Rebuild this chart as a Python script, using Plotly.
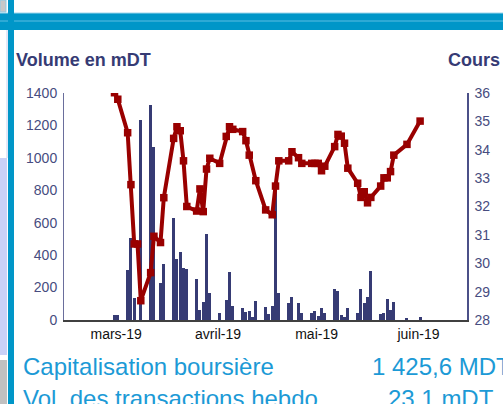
import plotly.graph_objects as go
import pandas as pd

# ---------------- data ----------------
dates = ["2019-02-28", "2019-03-01", "2019-03-04", "2019-03-05", "2019-03-06", "2019-03-07",
         "2019-03-08", "2019-03-11", "2019-03-12", "2019-03-14", "2019-03-15", "2019-03-18",
         "2019-03-19", "2019-03-20", "2019-03-21", "2019-03-22", "2019-03-25", "2019-03-26",
         "2019-03-27", "2019-03-28", "2019-03-29", "2019-04-01", "2019-04-03", "2019-04-04",
         "2019-04-05", "2019-04-08", "2019-04-09", "2019-04-10", "2019-04-11", "2019-04-12",
         "2019-04-15", "2019-04-16", "2019-04-17", "2019-04-18", "2019-04-19", "2019-04-22",
         "2019-04-23", "2019-04-25", "2019-04-26", "2019-04-29", "2019-04-30", "2019-05-01",
         "2019-05-02", "2019-05-03", "2019-05-06", "2019-05-07", "2019-05-08", "2019-05-09",
         "2019-05-10", "2019-05-13", "2019-05-14", "2019-05-15", "2019-05-16", "2019-05-17",
         "2019-05-20", "2019-05-21", "2019-05-22", "2019-05-23", "2019-05-24", "2019-05-28",
         "2019-06-01"]

volume_mdt = [30, 30, 308, 505, 134, 0,
              1232, 1325, 1067, 230, 345, 631,
              376, 420, 319, 313, 253, 62,
              113, 530, 169, 43, 123, 296,
              86, 73, 51, 57, 20, 117,
              80, 37, 86, 830, 169, 107,
              144, 107, 45, 45, 57, 25,
              72, 41, 191, 179, 31, 16,
              72, 45, 191, 107, 144, 302,
              37, 45, 130, 62, 113, 12,
              16]

cours_dt = [36.01, 35.78, 34.60, 32.77, 30.68, 30.68,
            28.68, 29.67, 30.95, 30.73, 32.31, 34.40,
            34.81, 34.67, 33.61, 32.00, 31.84, 32.62,
            31.82, 33.32, 33.70, 33.52, 34.47, 34.81,
            34.72, 34.64, 34.32, 33.81, None, 32.91,
            31.88, None, 31.71, 32.72, 33.61, 33.61,
            33.93, 33.72, 33.52, 33.52, 33.52, 33.52,
            33.26, 33.42, 34.11, 34.54, 34.48, 34.23,
            33.35, 32.82, 32.32, 32.52, 32.13, 32.32,
            32.72, 33.01, 33.01, 33.23, 33.81, 34.19,
            35.01]

month_ticks = ["2019-03-01", "2019-04-01", "2019-05-01", "2019-06-01"]
month_labels = ["mars-19", "avril-19", "mai-19", "juin-19"]
vol_ticks = [0, 200, 400, 600, 800, 1000, 1200, 1400]
cours_ticks = [28, 29, 30, 31, 32, 33, 34, 35, 36]

# ---------------- figure ----------------
W, H = 503, 404
ML, MR, MT, MB = 64, 36, 93, 84
PW, PH = W - ML - MR, H - MT - MB

def px(x):
    return (x - ML) / PW

def py(y):
    return (H - MB - y) / PH

NAVY = "#363B74"
RED = "#990000"
BLUE = "#0096C8"
TXT_BLUE = "#1C9AD6"
FONT = "Liberation Sans, Arial, sans-serif"

x_days = pd.to_datetime(dates) + pd.Timedelta(hours=12)

fig = go.Figure()
fig.add_trace(go.Bar(x=x_days, y=volume_mdt, marker=dict(color=NAVY, line=dict(width=0)),
                     width=0.9 * 86400000, yaxis="y", name="Volume"))
fig.add_trace(go.Scatter(x=x_days, y=cours_dt, yaxis="y2", mode="lines+markers",
                         connectgaps=True,
                         line=dict(color=RED, width=4),
                         marker=dict(symbol="square", size=7.5, color=RED), name="Cours"))

shapes = []
# top blue band
shapes.append(dict(type="rect", xref="paper", yref="paper", x0=px(0), x1=px(W), y0=py(30), y1=py(13),
                   fillcolor=BLUE, line=dict(width=0), layer="below"))
shapes.append(dict(type="line", xref="paper", yref="paper", x0=px(0), x1=px(W), y0=py(21), y1=py(21),
                   line=dict(color="#5DBDE2", width=1), layer="below"))
shapes.append(dict(type="line", xref="paper", yref="paper", x0=px(0), x1=px(W), y0=py(13), y1=py(13),
                   line=dict(color="#9ED6EC", width=1), layer="below"))
# left column decorations
shapes.append(dict(type="rect", xref="paper", yref="paper", x0=px(0), x1=px(6), y0=py(12), y1=py(0),
                   fillcolor="#C8C8C8", line=dict(color="#8FCBE6", width=1), layer="below"))
shapes.append(dict(type="rect", xref="paper", yref="paper", x0=px(0), x1=px(7), y0=py(355), y1=py(158),
                   fillcolor="#C9D1F7", line=dict(width=0), layer="below"))
shapes.append(dict(type="rect", xref="paper", yref="paper", x0=px(0), x1=px(7), y0=py(H), y1=py(360),
                   fillcolor="#C0C0C0", line=dict(width=0), layer="below"))
shapes.append(dict(type="line", xref="paper", yref="paper", x0=px(7), x1=px(7), y0=py(158), y1=py(30),
                   line=dict(color="#C9D1F0", width=1), layer="below"))
# left vertical blue bar
shapes.append(dict(type="rect", xref="paper", yref="paper", x0=px(8), x1=px(14), y0=py(H), y1=py(0),
                   fillcolor=BLUE, line=dict(width=0), layer="below"))

annotations = [
    dict(text="<b>Volume en mDT</b>", xref="paper", yref="paper", x=px(14), y=py(60),
         xanchor="left", yanchor="middle", showarrow=False, font=dict(size=18, color=NAVY, family=FONT)),
    dict(text="<b>Cours</b>", xref="paper", yref="paper", x=px(446), y=py(60),
         xanchor="left", yanchor="middle", showarrow=False, font=dict(size=18, color=NAVY, family=FONT)),
    dict(text="Capitalisation boursière", xref="paper", yref="paper", x=px(21), y=py(366),
         xanchor="left", yanchor="middle", showarrow=False, font=dict(size=24, color=TXT_BLUE, family=FONT)),
    dict(text="1 425,6 MDT", xref="paper", yref="paper", x=px(370), y=py(366),
         xanchor="left", yanchor="middle", showarrow=False, font=dict(size=24, color=TXT_BLUE, family=FONT)),
    dict(text="Vol. des transactions hebdo.", xref="paper", yref="paper", x=px(21), y=py(398),
         xanchor="left", yanchor="middle", showarrow=False, font=dict(size=24, color=TXT_BLUE, family=FONT)),
    dict(text="23,1 mDT", xref="paper", yref="paper", x=px(386), y=py(398),
         xanchor="left", yanchor="middle", showarrow=False, font=dict(size=24, color=TXT_BLUE, family=FONT)),
]

fig.update_layout(
    width=W, height=H,
    margin=dict(l=ML, r=MR, t=MT, b=MB, pad=0),
    paper_bgcolor="white", plot_bgcolor="white",
    showlegend=False,
    bargap=0,
    font=dict(family=FONT, size=14, color="#474C80"),
    xaxis=dict(type="date", range=["2019-02-13 03:07", "2019-06-15 18:28"],
               tickvals=month_ticks, ticktext=month_labels,
               tickfont=dict(size=14, color="#111111", family=FONT),
               showgrid=False, zeroline=False, showline=True, linecolor="#404040", linewidth=2,
               ticks="", ticklabelstandoff=0),
    yaxis=dict(range=[0, 1400], tickvals=vol_ticks, showgrid=False, zeroline=False,
               showline=True, linecolor="#6A6E9C", linewidth=1, ticks="",
               tickfont=dict(size=14, color="#474C80", family=FONT), ticklabelstandoff=3),
    yaxis2=dict(range=[28, 36], tickvals=cours_ticks, overlaying="y", side="right",
                showgrid=False, zeroline=False, showline=True, linecolor="#4B5088", linewidth=1.5,
                ticks="", tickfont=dict(size=14, color="#474C80", family=FONT), ticklabelstandoff=3),
    shapes=shapes,
    annotations=annotations,
)

fig.write_html("out.html", config={"displayModeBar": False},
               post_script="document.body.style.margin='0';")
